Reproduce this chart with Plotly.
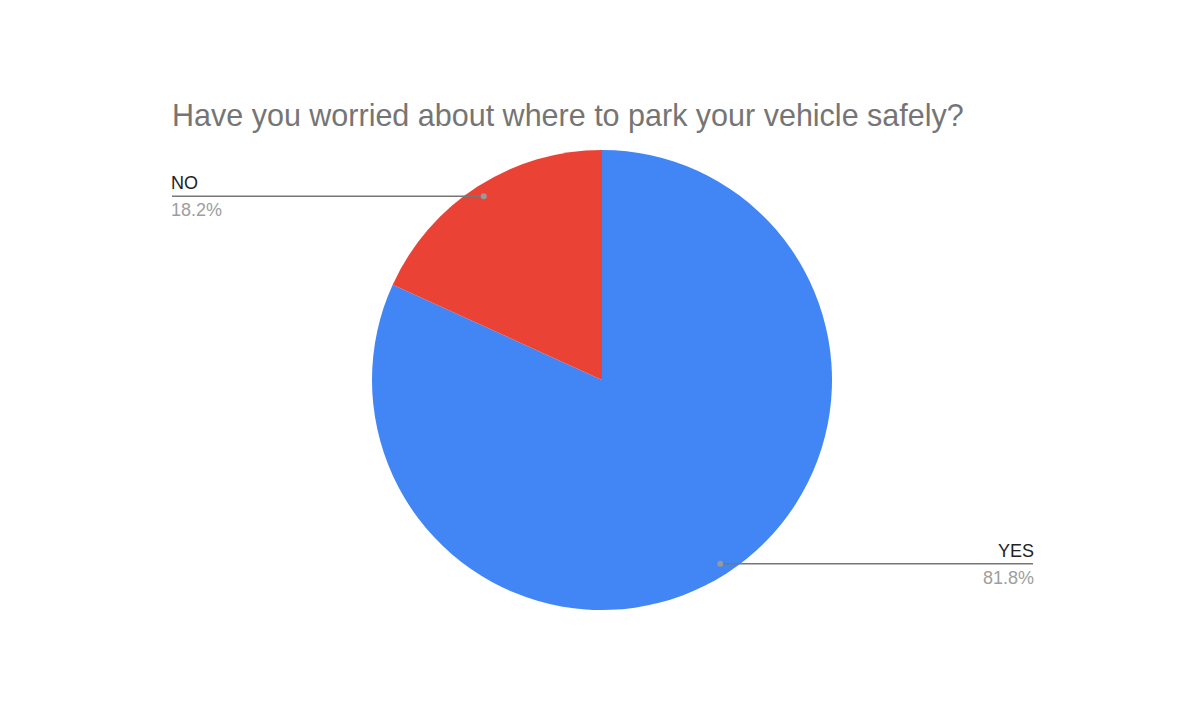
import math
import plotly.graph_objects as go

labels = ["NO", "YES"]
values = [18.2, 81.8]
colors = ["#EA4335", "#4285F4"]
title_text = "Have you worried about where to park your vehicle safely?"

W, H = 1199, 709
cx, cy, R = 602, 380, 230  # pie centre / radius in pixels

fig = go.Figure(go.Pie(
    labels=labels[::-1], values=values[::-1], sort=False, direction="clockwise",
    rotation=0, marker=dict(colors=colors[::-1], line=dict(width=0)),
    textinfo="none", hoverinfo="label+percent",
    domain=dict(x=[(cx - R) / W, (cx + R) / W], y=[1 - (cy + R) / H, 1 - (cy - R) / H]),
    showlegend=False,
))

def px(x):
    return x / W

def py(y):
    return 1 - y / H

shapes, annots = [], []
total = sum(values)
start = 0.0
label_ends = {"NO": 172, "YES": 1033}
for lab, v in zip(labels, values):
    frac = v / total
    mid = (start + frac / 2) * 2 * math.pi  # counterclockwise from 12 o'clock
    start += frac
    r = 0.95 * R
    dx = -math.sin(mid) * r
    dy = -math.cos(mid) * r
    x0, y0 = cx + dx, cy + dy
    xe = label_ends[lab]
    shapes.append(dict(type="line", xref="paper", yref="paper",
                       x0=px(x0), y0=py(y0), x1=px(xe), y1=py(y0),
                       line=dict(color="#777777", width=1.5)))
    shapes.append(dict(type="circle", xref="paper", yref="paper",
                       x0=px(x0 - 3), y0=py(y0 - 3), x1=px(x0 + 3), y1=py(y0 + 3),
                       fillcolor="#999999", line=dict(width=0)))
    anchor = "left" if xe < x0 else "right"
    xs = -3 if anchor == "left" else 3
    annots.append(dict(x=px(xe), y=py(y0 - 1), xref="paper", yref="paper", xshift=xs,
                       text=lab, showarrow=False, xanchor=anchor, yanchor="bottom",
                       font=dict(family="Liberation Sans, Arial", size=18, color="#222222")))
    annots.append(dict(x=px(xe), y=py(y0 + 2), xref="paper", yref="paper", xshift=xs,
                       text=f"{v:.1f}%", showarrow=False, xanchor=anchor, yanchor="top",
                       font=dict(family="Liberation Sans, Arial", size=18, color="#9E9E9E")))

fig.update_layout(
    width=W, height=H,
    margin=dict(l=0, r=0, t=0, b=0),
    paper_bgcolor="white", plot_bgcolor="white",
    title=dict(text=title_text, x=px(172), xanchor="left", y=py(115), yanchor="middle",
               font=dict(family="Liberation Sans, Arial", size=30.5, color="#757575")),
    shapes=shapes, annotations=annots,
)

fig.write_html("out.html")
